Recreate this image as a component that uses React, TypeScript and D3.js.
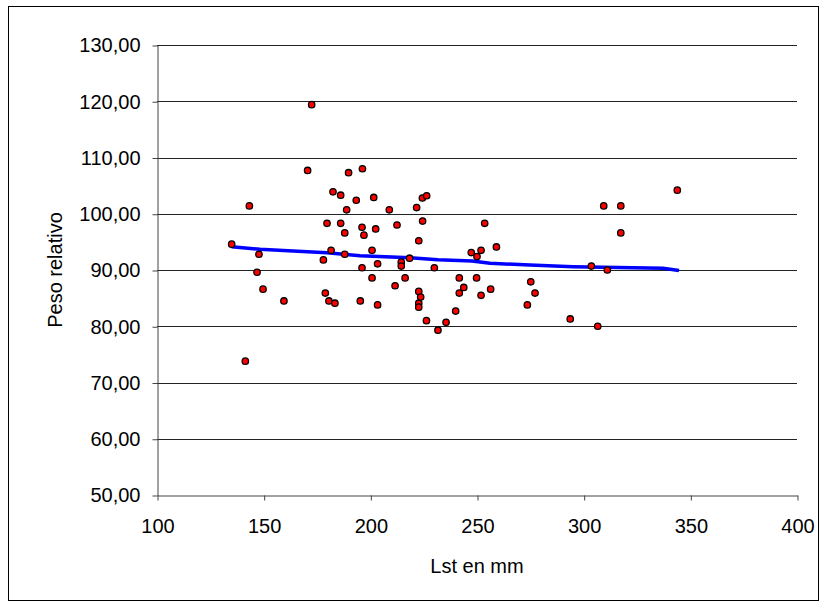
import React, { useEffect, useRef } from 'react';
import * as d3 from 'd3';

// Lst (mm) and relative weight
const lst = [
  135.0, 141.4, 143.3, 146.9, 147.8, 149.7, 159.5, 170.6, 172.5, 178.0,
  178.9, 179.7, 180.6, 181.6, 182.5, 183.4, 186.1, 186.1, 188.0, 188.0,
  188.9, 189.8, 193.4, 195.3, 196.1, 196.1, 196.3, 197.0, 200.8, 200.8,
  201.6, 202.5, 203.4, 203.4, 208.9, 211.6, 212.5, 214.5, 214.5, 216.3,
  218.4, 221.7, 222.7, 222.7, 222.7, 222.7, 223.6, 224.4, 224.5, 226.3,
  226.4, 230.0, 231.7, 235.5, 240.0, 241.7, 241.7, 243.8, 247.3, 249.8,
  250.0, 251.9, 251.9, 253.6, 256.4, 259.1, 273.6, 275.2, 277.2, 293.7,
  303.6, 306.6, 309.4, 311.1, 317.4, 317.4, 343.9,
];
const peso = [
  94.6, 73.8, 101.4, 89.6, 92.8, 86.6, 84.5, 107.7, 119.4, 91.8,
  85.9, 98.3, 84.5, 93.5, 103.9, 84.1, 103.3, 98.3, 96.6, 92.8,
  100.7, 107.3, 102.4, 84.5, 97.6, 90.4, 108.0, 96.2, 93.5, 88.6,
  102.9, 97.3, 91.1, 83.8, 100.7, 87.2, 98.0, 91.4, 90.7, 88.6,
  92.1, 101.1, 95.2, 86.2, 84.1, 83.4, 85.2, 102.8, 98.7, 81.0,
  103.2, 90.4, 79.3, 80.7, 82.7, 88.6, 85.9, 86.9, 93.1, 88.6,
  92.4, 93.5, 85.5, 98.3, 86.6, 94.1, 83.8, 87.9, 85.9, 81.3,
  90.7, 80.0, 101.4, 90.0, 101.4, 96.6, 104.2,
];

// fitted trend line
const trendX = [135.0, 148.3, 163.8, 179.7, 195.2, 218.6, 231.7, 247.7, 256.1, 274.8, 295.0, 309.1, 337.2, 344.7];
const trendY = [94.14, 93.68, 93.38, 93.08, 92.54, 92.19, 91.83, 91.6, 91.19, 90.89, 90.59, 90.48, 90.3, 89.9];

const xTicks = [100, 150, 200, 250, 300, 350, 400];
const yTicks = [50, 60, 70, 80, 90, 100, 110, 120, 130];

const W = 827, H = 608;
const margin = { top: 45, right: 30, bottom: 113, left: 157 };
const font = 'Liberation Sans, Arial, sans-serif';

export default function App() {
  const ref = useRef<SVGSVGElement>(null);

  useEffect(() => {
    const svg = d3.select(ref.current);
    svg.selectAll('*').remove();

    const x = d3.scaleLinear().domain([100, 400]).range([margin.left, W - margin.right]);
    const y = d3.scaleLinear().domain([50, 130]).range([H - margin.bottom, margin.top]);

    // outer frame
    svg.append('rect')
      .attr('x', 8.5).attr('y', 6.5).attr('width', 810).attr('height', 594)
      .attr('fill', '#fff').attr('stroke', '#000');

    // gridlines
    svg.append('g').selectAll('line')
      .data(yTicks.slice(1))
      .join('line')
      .attr('x1', x(100)).attr('x2', x(400))
      .attr('y1', d => Math.round(y(d)) + 0.5).attr('y2', d => Math.round(y(d)) + 0.5)
      .attr('stroke', '#222');

    // y axis
    const fmt = (d: number) => d.toFixed(2).replace('.', ',');
    const gy = svg.append('g')
      .attr('transform', `translate(${Math.round(x(100)) + 0.5},0.5)`)
      .call(d3.axisLeft(y).tickValues(yTicks).tickSize(5).tickSizeOuter(0).tickPadding(12).tickFormat(d => fmt(+d)));
    gy.selectAll('path, line').attr('stroke', '#444');
    gy.selectAll('text').attr('font-family', font).attr('font-size', 20).attr('fill', '#000');

    // x axis
    const gx = svg.append('g')
      .attr('transform', `translate(0.5,${Math.round(y(50)) + 0.5})`)
      .call(d3.axisBottom(x).tickValues(xTicks).tickSize(5).tickSizeOuter(0).tickPadding(18).tickFormat(d3.format('d')));
    gx.selectAll('path, line').attr('stroke', '#444');
    gx.selectAll('text').attr('font-family', font).attr('font-size', 20).attr('fill', '#000');

    // trend line
    const pts = trendX.map((v, i) => [v, trendY[i]] as [number, number]);
    svg.append('path')
      .datum(pts)
      .attr('fill', 'none')
      .attr('stroke', '#0000ff')
      .attr('stroke-width', 3.5)
      .attr('d', d3.line<[number, number]>().x(d => x(d[0])).y(d => y(d[1])));

    // scatter points
    svg.append('g').selectAll('circle')
      .data(lst.map((v, i) => [v, peso[i]]))
      .join('circle')
      .attr('cx', d => x(d[0])).attr('cy', d => y(d[1]))
      .attr('r', 3.2)
      .attr('fill', '#ff0000')
      .attr('stroke', '#000')
      .attr('stroke-width', 1.3);

    // axis titles
    svg.append('text')
      .attr('x', (x(100) + x(400)) / 2).attr('y', 573)
      .attr('text-anchor', 'middle')
      .attr('font-family', font).attr('font-size', 20)
      .text('Lst en mm');

    svg.append('text')
      .attr('transform', `translate(62,${(y(50) + y(130)) / 2}) rotate(-90)`)
      .attr('text-anchor', 'middle')
      .attr('font-family', font).attr('font-size', 20)
      .text('Peso relativo');
  }, []);

  return (
    <svg ref={ref} width={W} height={H}
      style={{ position: 'absolute', left: 0, top: 0, background: '#fff' }} />
  );
}
